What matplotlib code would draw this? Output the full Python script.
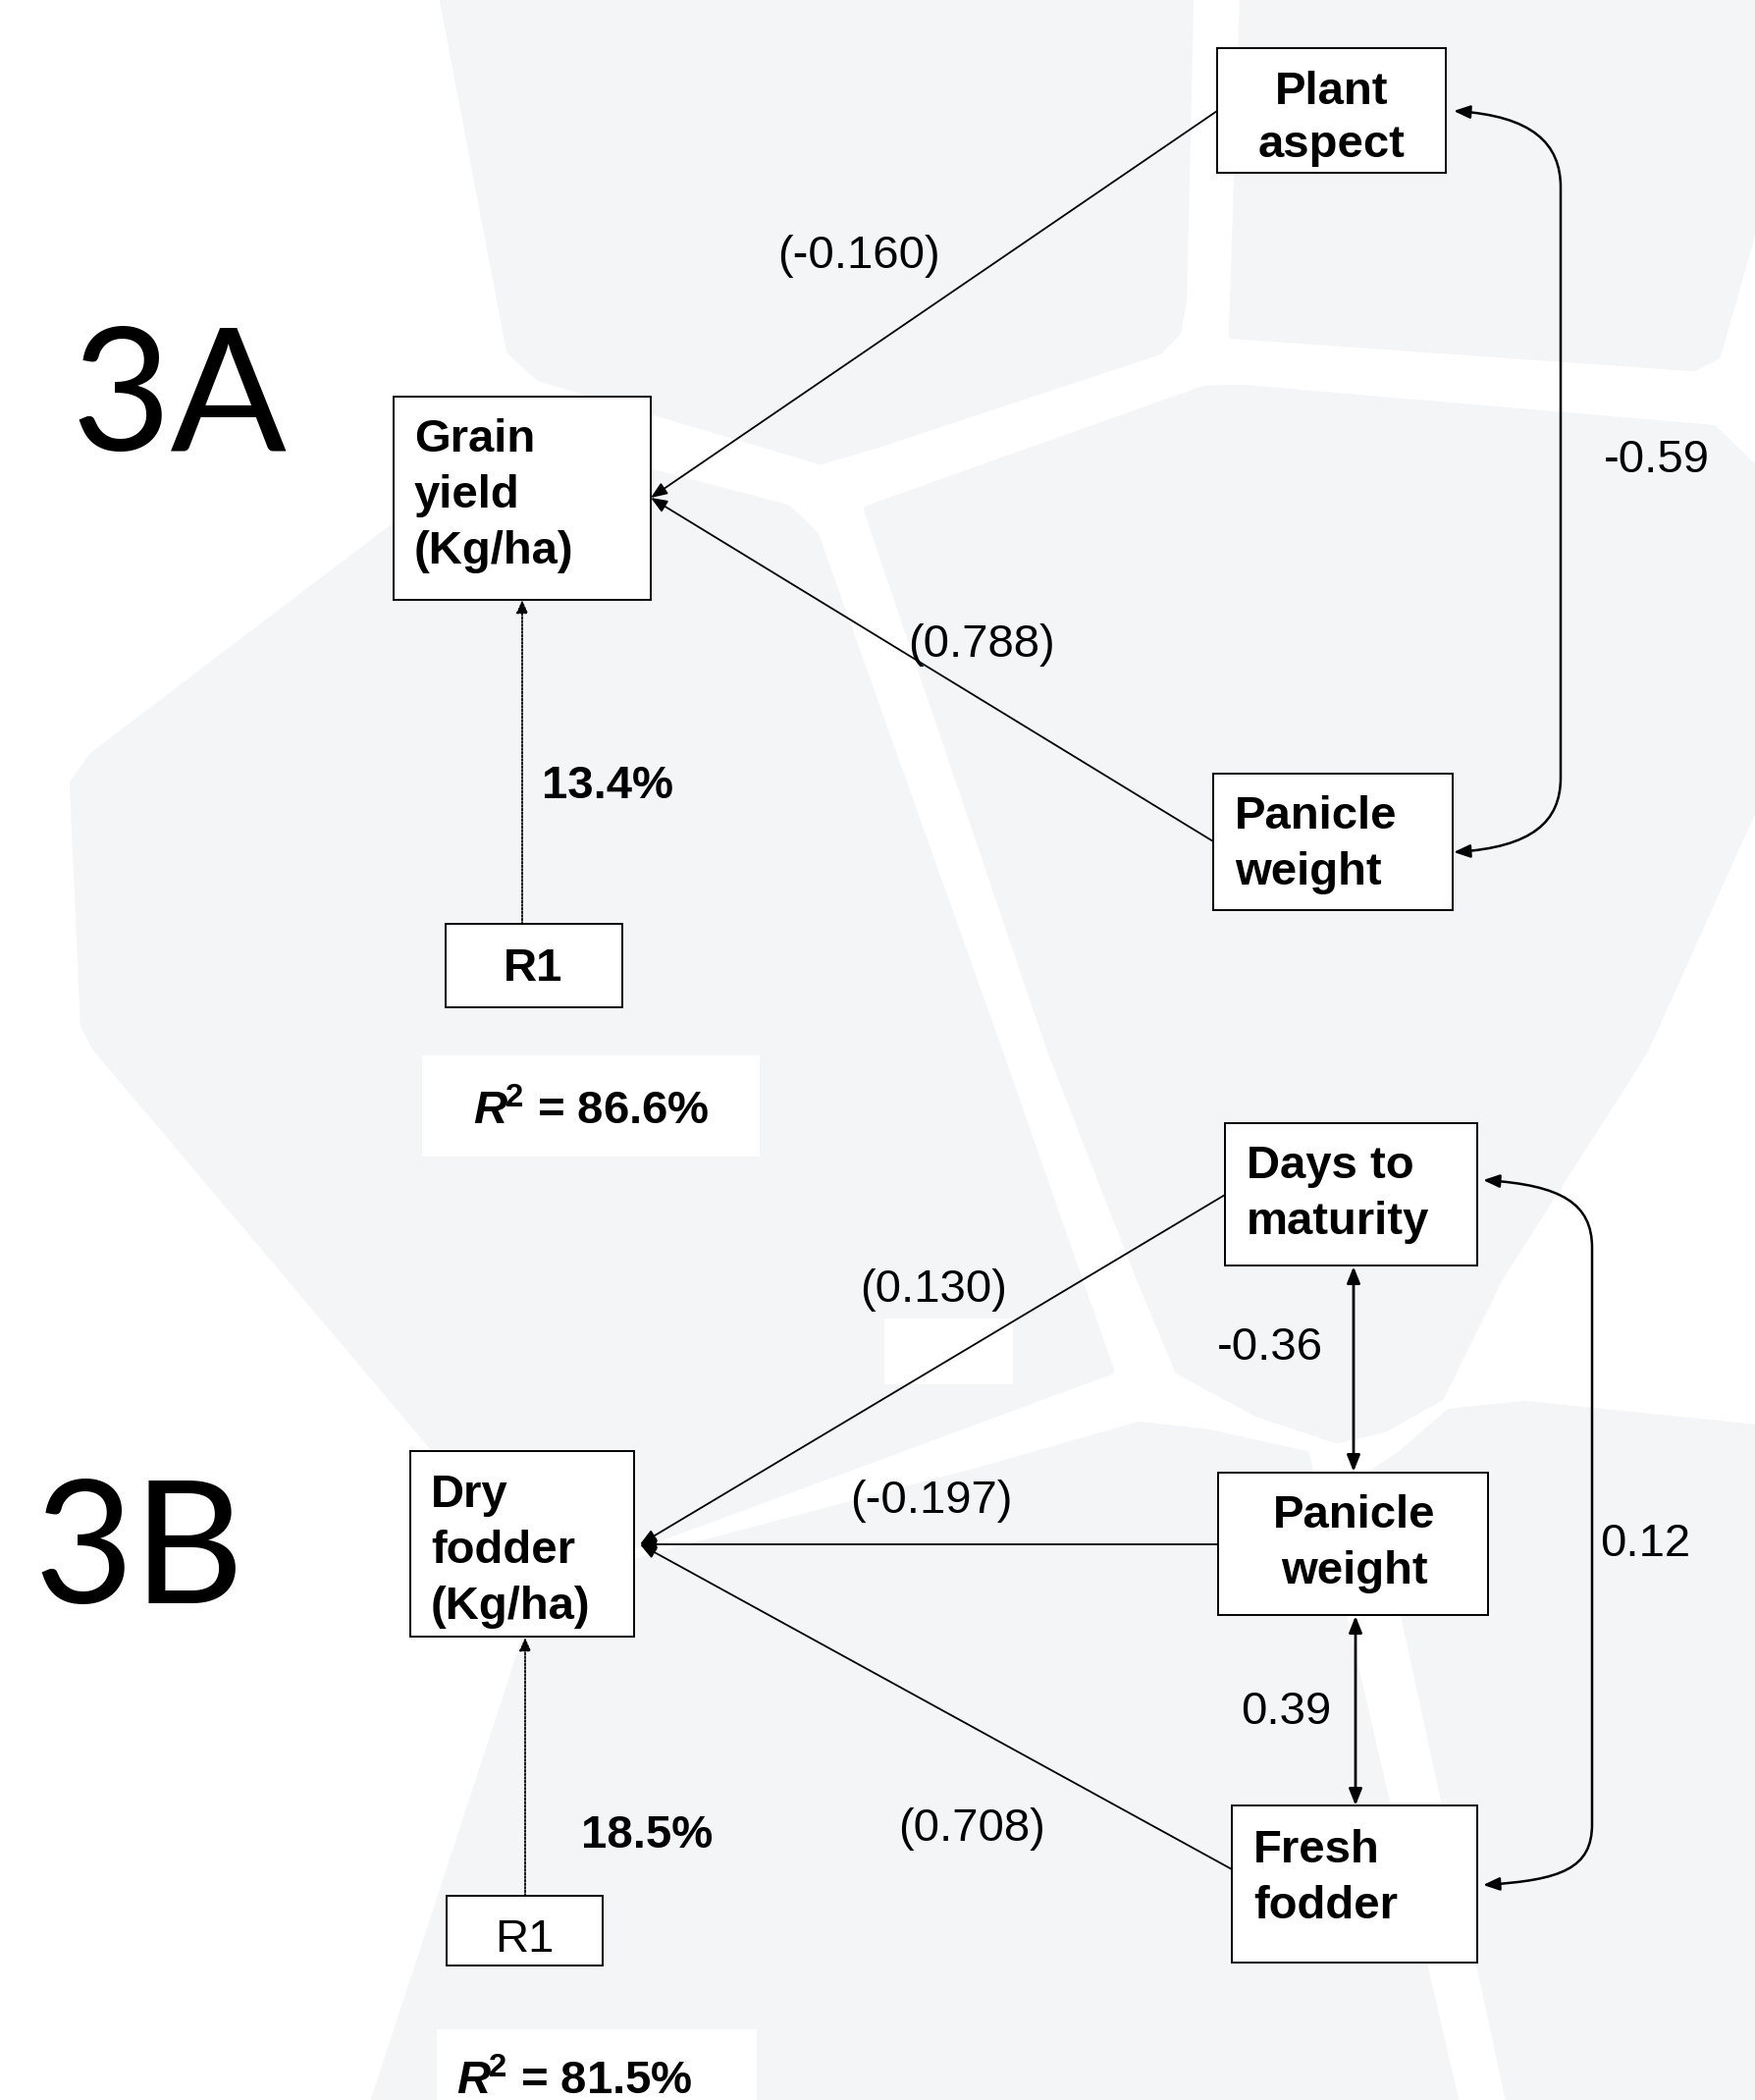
import matplotlib
matplotlib.use("Agg")
import matplotlib.pyplot as plt
from matplotlib.patches import Polygon, Rectangle, FancyArrowPatch
from matplotlib.path import Path

plt.rcParams["font.family"] = ["Liberation Sans", "DejaVu Sans"]
plt.rcParams["mathtext.fontset"] = "custom"
plt.rcParams["mathtext.it"] = "Liberation Sans:italic:bold"
plt.rcParams["mathtext.rm"] = "Liberation Sans:bold"
plt.rcParams["mathtext.bf"] = "Liberation Sans:bold"

# ---- data (path analysis results) ----
panel_labels = ["3A", "3B"]

a_nodes = [["Grain", "yield", "(Kg/ha)"], ["Plant", "aspect"], ["Panicle", "weight"], ["R1"]]
a_path_coef = [-0.160, 0.788]          # Plant aspect, Panicle weight -> Grain yield
a_corr = [-0.59]                       # Plant aspect <-> Panicle weight
a_residual = 13.4
a_r2 = 86.6

b_nodes = [["Dry", "fodder", "(Kg/ha)"], ["Days to", "maturity"], ["Panicle", "weight"],
           ["Fresh", "fodder"], ["R1"]]
b_path_coef = [0.130, -0.197, 0.708]   # Days, Panicle, Fresh -> Dry fodder
b_corr = [-0.36, 0.39, 0.12]           # Days<->Panicle, Panicle<->Fresh, Days<->Fresh
b_residual = 18.5
b_r2 = 81.5

W, H = 1788, 2139
fig = plt.figure(figsize=(W / 100, H / 100), dpi=100)
ax = fig.add_axes([0, 0, 1, 1])
ax.set_xlim(0, W)
ax.set_ylim(H, 0)
ax.axis("off")

# ---- light map-like background ----
bg = "#f4f5f7"
bg_shapes = [
    [(452, 0), (1212, 0), (1205, 307), (1199, 338), (1181, 357), (894, 452), (836, 469),
     (549, 384), (520, 357)],
    [(1267, 0), (1788, 0), (1788, 225), (1749, 362), (1725, 374), (1256, 341)],
    [(884, 519), (1227, 397), (1265, 396), (1745, 437), (1788, 478), (1788, 819), (1675, 1070),
     (1528, 1300), (1467, 1423), (1410, 1455), (1362, 1466), (1281, 1439), (1201, 1396),
     (1161, 1300), (1071, 1070)],
    [(98, 1067), (86, 1044), (75, 798), (95, 770), (399, 539), (664, 482), (802, 518),
     (830, 545), (1017, 1070), (1131, 1396), (652, 1573), (448, 1481)],
    [(539, 1660), (652, 1590), (1000, 1498), (1161, 1452), (1231, 1460), (1330, 1482),
     (1482, 2139), (382, 2139)],
    [(1400, 1500), (1427, 1482), (1477, 1439), (1553, 1431), (1788, 1455), (1788, 2139),
     (1538, 2139)],
]
for pts in bg_shapes:
    ax.add_patch(Polygon(pts, closed=True, facecolor=bg, edgecolor=bg, lw=6, joinstyle="round", zorder=0))

for x0, y0, x1, y1 in [(430, 1075, 774, 1178), (445, 2067, 771, 2145), (901, 1343, 1032, 1410)]:
    ax.add_patch(Rectangle((x0, y0), x1 - x0, y1 - y0, facecolor="white", edgecolor="none", zorder=0.5))


def node(rect, lines, x, base, ha="left", bold=True, step=57):
    x0, y0, x1, y1 = rect
    ax.add_patch(Rectangle((x0, y0), x1 - x0, y1 - y0, facecolor="white", edgecolor="black",
                           lw=1.4, zorder=3))
    for i, s in enumerate(lines):
        ax.text(x, base + i * step, s, ha=ha, va="baseline", fontsize=34,
                fontweight="bold" if bold else "normal", zorder=4)


def label(x, base, s, bold=False, ha="center", size=34):
    ax.text(x, base, s, ha=ha, va="baseline", fontsize=size,
            fontweight="bold" if bold else "normal", zorder=4)


def arrow(p0, p1, style="-|>", lw=1.3, ls="-", hl=10, hw=4):
    ax.add_patch(FancyArrowPatch(p0, p1, arrowstyle=f"{style},head_length={hl},head_width={hw}",
                                 lw=lw, ls=ls, color="black", shrinkA=0, shrinkB=0, zorder=2))


def curved(top, bottom, xv, yv0, yv1):
    verts = [top, (top[0] + 80, top[1] + 5), (xv, yv0 - 45), (xv, yv0), (xv, yv1),
             (xv, yv1 + 45), (bottom[0] + 80, bottom[1] - 5), bottom]
    codes = [Path.MOVETO, Path.CURVE4, Path.CURVE4, Path.CURVE4, Path.LINETO,
             Path.CURVE4, Path.CURVE4, Path.CURVE4]
    ax.add_patch(FancyArrowPatch(path=Path(verts, codes),
                                 arrowstyle="<|-|>,head_length=10,head_width=4",
                                 lw=1.8, color="black", zorder=2))


# ---- panel 3A ----
ax.text(72, 459, panel_labels[0], ha="left", va="baseline", fontsize=126, family="Lato")
node((401, 404, 663, 611), a_nodes[0], 422, 460)
node((1240, 49, 1473, 176), a_nodes[1], 1357, 106, ha="center", step=54)
node((1236, 788, 1480, 927), a_nodes[2], 1258, 844)
node((454, 941, 634, 1026), a_nodes[3], 543, 999, ha="center")

arrow((1240, 113), (663, 507))
arrow((1236, 857), (663, 507))
arrow((532, 941), (532, 611), ls=(0, (1, 1)), hl=8, hw=3.5)
curved((1481, 113), (1481, 868), 1590, 191, 792)

label(875, 273, f"({a_path_coef[0]:.3f})")
label(1000, 669, f"({a_path_coef[1]:.3f})")
label(1688, 481, f"{a_corr[0]:.2f}")
label(552, 813, f"{a_residual:.1f}%", bold=True, ha="left")
label(602, 1145, f"$R^{{\\!2}}$ = {a_r2:.1f}%", bold=True)

# ---- panel 3B ----
ax.text(34, 1633, panel_labels[1], ha="left", va="baseline", fontsize=126, family="Lato")
node((418, 1478, 646, 1667), b_nodes[0], 439, 1535)
node((1248, 1144, 1505, 1289), b_nodes[1], 1270, 1200)
node((1241, 1500, 1516, 1645), b_nodes[2], 1380, 1556, ha="center")
node((1255, 1839, 1505, 1999), b_nodes[3], 1277, 1897)
node((455, 1931, 614, 2002), b_nodes[4], 534, 1988, ha="center", bold=False)

arrow((1248, 1217), (652, 1573))
arrow((1243, 1573), (652, 1573))
arrow((1255, 1904), (652, 1573))
arrow((535, 1931), (535, 1668), ls=(0, (1, 1)), hl=8, hw=3.5)
arrow((1379, 1290), (1379, 1499), style="<|-|>", lw=2.0)
arrow((1381, 1646), (1381, 1839), style="<|-|>", lw=2.0)
curved((1511, 1202), (1511, 1920), 1622, 1271, 1858)

label(951, 1326, f"({b_path_coef[0]:.3f})")
label(949, 1541, f"({b_path_coef[1]:.3f})")
label(990, 1875, f"({b_path_coef[2]:.3f})")
label(1294, 1385, f"{b_corr[0]:.2f}")
label(1310, 1756, f"{b_corr[1]:.2f}")
label(1676, 1585, f"{b_corr[2]:.2f}")
label(592, 1882, f"{b_residual:.1f}%", bold=True, ha="left")
label(585, 2133, f"$R^{{\\!2}}$ = {b_r2:.1f}%", bold=True)

fig.savefig("out.png", dpi=100, facecolor="white")
